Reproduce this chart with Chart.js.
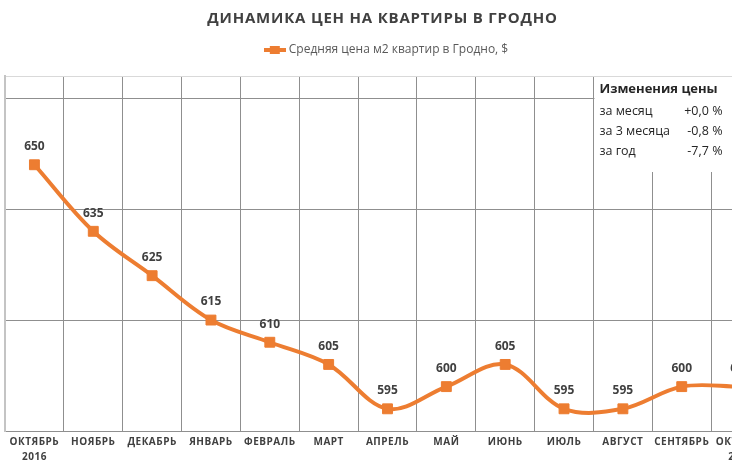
<!DOCTYPE html>
<html><head><meta charset="utf-8">
<script src="https://cdn.jsdelivr.net/npm/chart.js@4"></script>
<style>
html,body{margin:0;padding:0;background:#fff;overflow:hidden;}
#wrap{position:relative;width:775px;height:466px;}
canvas{display:block;}
</style></head><body>
<div id="wrap"><canvas id="c" width="775" height="466"></canvas></div>
<script>
const titleText = 'ДИНАМИКА ЦЕН НА КВАРТИРЫ В ГРОДНО';
const seriesName = 'Средняя цена м2 квартир в Гродно, $';
const months = ['ОКТЯБРЬ','НОЯБРЬ','ДЕКАБРЬ','ЯНВАРЬ','ФЕВРАЛЬ','МАРТ','АПРЕЛЬ','МАЙ','ИЮНЬ','ИЮЛЬ','АВГУСТ','СЕНТЯБРЬ','ОКТЯБРЬ'];
const years = ['2016','','','','','','','','','','','','2017'];
const prices = [650,635,625,615,610,605,595,600,605,595,595,600,600];
const yTicks = [590,615,640,665,670];
const boxTitle = 'Изменения цены';
const boxRows = ['за месяц','за 3 месяца','за год'];
const boxValues = ['+0,0 %','-0,8 %','-7,7 %'];

const ORANGE = '#ED7D31';
const labels = months.map((m,i)=> years[i] ? [m, years[i]] : m);

// legend marker: line with square
const mk = document.createElement('canvas');
mk.width = 22; mk.height = 10;
(function(){ const c = mk.getContext('2d'); c.fillStyle = ORANGE; c.fillRect(0,3,22,4); c.fillRect(6,1,10,8); })();

const layoutTweaks = {
  id:'tweaks',
  beforeLayout(chart){
    const lg = chart.legend;
    if (lg && !lg._wr){ const f = lg.fit.bind(lg); lg.fit = function(){ f(); this.height += 10; }; lg._wr = true; }
  },
  afterLayout(chart){
    const tb = chart.titleBlock;
    if (tb && !tb._wr){ const d = tb.draw.bind(tb); tb.draw = function(a){ const c = chart.ctx; c.save(); c.translate(-5,0); c.letterSpacing='0.8px'; d(a); c.restore(); }; tb._wr = true; }
    const xs = chart.scales.x;
    if (xs && !xs._wr){ const d = xs.drawLabels.bind(xs); xs.drawLabels = function(a){ chart.ctx.save(); chart.ctx.letterSpacing='0.5px'; d(a); chart.ctx.restore(); }; xs._wr = true; }
  }
};

const overlayPlugin = {
  id:'overlay',
  afterDatasetsDraw(chart){
    const ctx = chart.ctx, meta = chart.getDatasetMeta(0), ca = chart.chartArea;
    ctx.save();
    ctx.font = 'bold 12px "Open Sans"';
    ctx.fillStyle = '#404040';
    ctx.textAlign = 'center'; ctx.textBaseline = 'middle';
    meta.data.forEach((p,i)=> ctx.fillText(String(prices[i]), p.x, p.y - 18));
    // info box
    const xs = chart.scales.x;
    const left = (xs.getPixelForValue(9) + xs.getPixelForValue(10))/2 + 1;
    const top = ca.top + 1;
    ctx.fillStyle = '#fff';
    ctx.fillRect(left, top, chart.width - left, 95);
    ctx.textAlign = 'left';
    ctx.fillStyle = '#262626';
    ctx.font = 'bold 13px "Open Sans"';
    ctx.fillText(boxTitle, left + 5, top + 12);
    ctx.font = '12.5px "Open Sans"';
    boxRows.forEach((r,i)=>{
      ctx.textAlign = 'left';
      ctx.fillText(r, left + 5, top + 34 + i*20);
      ctx.textAlign = 'right';
      ctx.fillText(boxValues[i], left + 128, top + 34 + i*20);
    });
    ctx.restore();
  }
};

new Chart(document.getElementById('c'), {
  type:'line',
  data:{
    labels: labels,
    datasets:[{
      label: seriesName,
      data: prices,
      borderColor: ORANGE,
      backgroundColor: ORANGE,
      borderWidth: 4,
      tension: 0.35,
      pointStyle: 'rect',
      pointRadius: 7,
      pointBorderWidth: 1,
      pointBackgroundColor: ORANGE,
      pointBorderColor: ORANGE,
      clip: false
    }]
  },
  options:{
    responsive:false,
    animation:false,
    layout:{autoPadding:false,padding:{left:5,right:5,top:0,bottom:-3}},
    plugins:{
      title:{display:true,text:titleText,color:'#404040',font:{family:'Open Sans',size:15,weight:'bold'},padding:{top:10,bottom:8}},
      legend:{
        display:true,
        labels:{
          color:'#595959',
          font:{family:'Open Sans',size:12},
          usePointStyle:true,
          pointStyleWidth:16,
          boxHeight:10,
          padding:8,
          generateLabels(){ return [{text:seriesName, pointStyle:mk, fillStyle:ORANGE, strokeStyle:ORANGE, lineWidth:0, fontColor:'#595959', datasetIndex:0}]; }
        }
      },
      tooltip:{enabled:false}
    },
    scales:{
      x:{
        offset:true,
        afterFit(s){ s.paddingLeft = 0; s.paddingRight = 0; },
        grid:{offset:true,color:'#8f8f8f',drawTicks:false},
        border:{color:'#8f8f8f'},
        ticks:{autoSkip:false,maxRotation:0,color:'#404040',padding:4,font:{family:'Open Sans',size:10,weight:'bold',lineHeight:1.5}}
      },
      y:{
        min:590,max:670,
        afterBuildTicks(s){ s.ticks = yTicks.map(v=>({value:v})); },
        afterFit(s){ s.width = 0; },
        ticks:{display:false},
        grid:{drawTicks:false,color:(c)=> (c.tick && c.tick.value===670) ? '#d9d9d9' : '#8f8f8f'},
        border:{color:'#c4c4c4',width:2}
      }
    }
  },
  plugins:[layoutTweaks, overlayPlugin]
});
</script>
</body></html>
